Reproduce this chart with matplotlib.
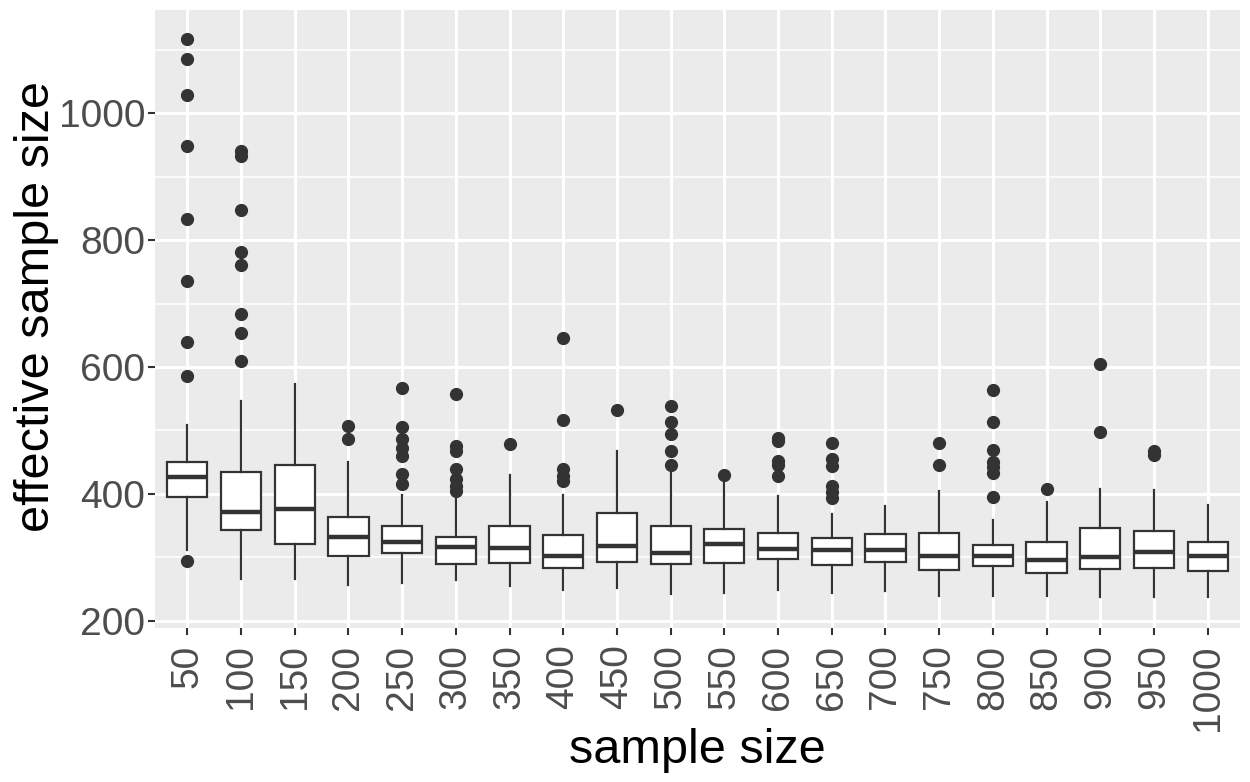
# boxplot of effective sample size against sample size
import matplotlib.pyplot as plt
import numpy as np

plt.rcParams['font.family'] = ['Liberation Sans', 'DejaVu Sans']

sizes = [50, 100, 150, 200, 250, 300, 350, 400, 450, 500,
         550, 600, 650, 700, 750, 800, 850, 900, 950, 1000]

# box statistics
whisk_lo = [312, 266, 266, 256, 260, 264, 255, 249, 252, 242,
            244, 249, 244, 247, 240, 240, 239, 237, 238, 238]
q1 = [395, 344, 322, 302, 307, 290, 292, 283, 293, 290,
      291, 297, 288, 293, 281, 286, 275, 282, 284, 278]
med = [427, 372, 377, 333, 325, 317, 315, 303, 318, 307,
       321, 314, 311, 312, 302, 302, 296, 300, 309, 302]
q3 = [450, 434, 445, 363, 349, 333, 349, 335, 370, 350,
      345, 338, 330, 337, 338, 319, 324, 346, 342, 325]
whisk_hi = [509, 546, 574, 450, 399, 395, 430, 399, 467, 434,
            417, 397, 369, 381, 404, 359, 388, 408, 406, 383]
outliers = [
    [1117, 1085, 1029, 948, 833, 736, 640, 586, 295],
    [940, 932, 847, 781, 760, 683, 654, 609],
    [],
    [507, 486],
    [567, 506, 487, 473, 460, 432, 415],
    [558, 476, 468, 440, 424, 413, 405],
    [479],
    [645, 516, 440, 429, 421],
    [533],
    [539, 513, 495, 467, 446],
    [430],
    [488, 483, 452, 445, 429],
    [481, 455, 444, 412, 403, 394],
    [],
    [481, 446],
    [563, 514, 470, 450, 442, 433, 395],
    [408],
    [605, 498],
    [467, 462],
    [],
]

stats = []
for i in range(len(sizes)):
    stats.append(dict(whislo=whisk_lo[i], q1=q1[i], med=med[i], q3=q3[i],
                      whishi=whisk_hi[i], fliers=outliers[i]))

fig = plt.figure(figsize=(12.5, 7.82), dpi=100)
ax = fig.add_axes([0.124, 0.197, 0.868, 0.790])
ax.set_facecolor('#EBEBEB')

dark = '#333333'
pos = np.arange(1, len(sizes) + 1)
ax.bxp(stats, positions=pos, widths=0.75, patch_artist=True, showcaps=False,
       boxprops=dict(facecolor='white', edgecolor=dark, linewidth=1.6),
       medianprops=dict(color=dark, linewidth=3.2, solid_capstyle='butt'),
       whiskerprops=dict(color=dark, linewidth=1.6),
       flierprops=dict(marker='o', markerfacecolor=dark, markeredgecolor=dark,
                       markersize=8.5),
       zorder=3)

ax.set_xlim(0.4, len(sizes) + 0.6)
ax.set_ylim(189, 1162)
ax.set_yticks([200, 400, 600, 800, 1000])
ax.set_yticks([300, 500, 700, 900, 1100], minor=True)
ax.set_xticks(pos)
ax.set_xticklabels([str(s) for s in sizes], rotation=90)

ax.grid(which='major', color='white', linewidth=2.2, zorder=0)
ax.grid(which='minor', axis='y', color='white', linewidth=1.1, zorder=0)
ax.set_axisbelow(True)
for s in ax.spines.values():
    s.set_visible(False)

ax.tick_params(axis='both', which='major', labelsize=28, labelcolor='#4D4D4D',
               color=dark, length=5, width=1.5)
ax.tick_params(axis='y', pad=2)
ax.tick_params(axis='x', pad=7)
ax.tick_params(which='minor', length=0)

# axis titles
fig.text(0.5576, 0.0243, 'sample size', fontsize=35, ha='center', va='baseline')
fig.text(0.0296, 0.608, 'effective sample size', fontsize=35, rotation=90,
         ha='center', va='center')

plt.savefig('out.png', dpi=100)
